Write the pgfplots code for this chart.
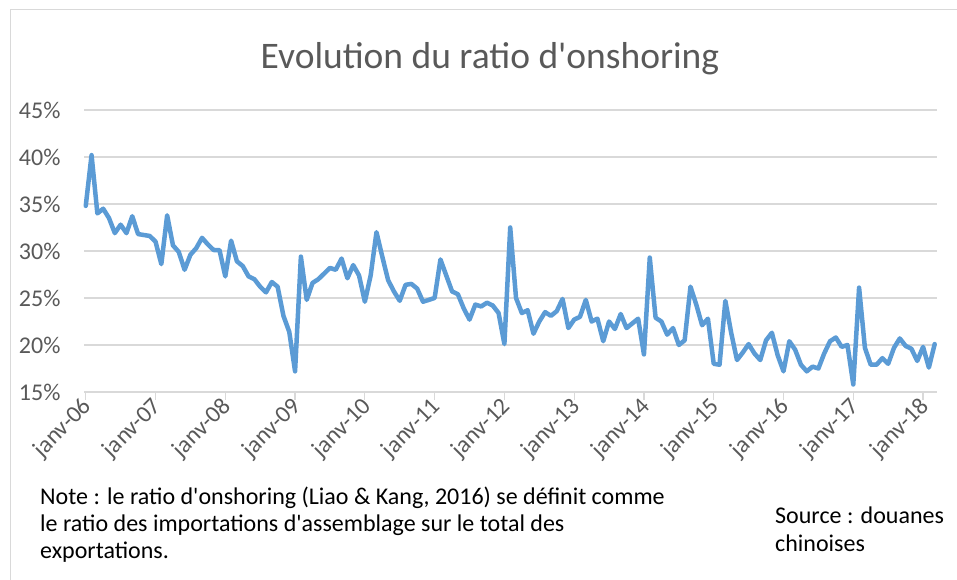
\documentclass[border=0pt]{standalone}
\usepackage{pgfplots}
\pgfplotsset{compat=1.18}
\usepackage{fontspec}
\setmainfont{Carlito}[Ligatures=TeXOff]
\definecolor{lineblue}{RGB}{91,155,213}
\definecolor{gridgray}{RGB}{217,217,217}
\definecolor{txtgray}{RGB}{89,89,89}
\pgfplotstableread{
m v
0 34.8
1 40.2
2 34.0
3 34.5
4 33.5
5 31.9
6 32.8
7 31.9
8 33.7
9 31.8
10 31.7
11 31.6
12 31.0
13 28.6
14 33.8
15 30.6
16 29.9
17 28.0
18 29.6
19 30.3
20 31.4
21 30.7
22 30.1
23 30.1
24 27.3
25 31.1
26 28.9
27 28.4
28 27.3
29 27.0
30 26.2
31 25.6
32 26.7
33 26.2
34 23.1
35 21.4
36 17.2
37 29.4
38 24.8
39 26.6
40 27.0
41 27.6
42 28.2
43 28.0
44 29.2
45 27.1
46 28.5
47 27.4
48 24.6
49 27.4
50 32.0
51 29.4
52 26.9
53 25.7
54 24.7
55 26.4
56 26.5
57 26.0
58 24.6
59 24.8
60 25.0
61 29.1
62 27.4
63 25.7
64 25.4
65 23.9
66 22.7
67 24.3
68 24.1
69 24.5
70 24.2
71 23.4
72 20.1
73 32.5
74 25.0
75 23.4
76 23.7
77 21.2
78 22.5
79 23.5
80 23.1
81 23.6
82 24.9
83 21.8
84 22.7
85 23.0
86 24.8
87 22.5
88 22.8
89 20.4
90 22.5
91 21.7
92 23.3
93 21.8
94 22.3
95 22.8
96 19.0
97 29.3
98 22.9
99 22.5
100 21.1
101 21.8
102 20.0
103 20.5
104 26.2
105 24.3
106 22.1
107 22.8
108 18.0
109 17.9
110 24.7
111 21.3
112 18.4
113 19.2
114 20.1
115 19.1
116 18.4
117 20.5
118 21.3
119 18.9
120 17.2
121 20.4
122 19.5
123 17.9
124 17.2
125 17.7
126 17.5
127 19.1
128 20.4
129 20.8
130 19.8
131 20.0
132 15.8
133 26.1
134 19.7
135 17.9
136 17.9
137 18.6
138 18.0
139 19.7
140 20.7
141 19.9
142 19.6
143 18.3
144 19.8
145 17.6
146 20.1
}\ratio
\begin{document}
\begin{tikzpicture}
\path[use as bounding box] (0pt,0pt) rectangle (957pt,580pt);
\draw[gridgray, line width=1pt] (10pt,0pt) -- (10pt,570pt) -- (957pt,570pt);
\begin{axis}[
  at={(84pt,188pt)}, anchor=south west,
  scale only axis, width=853pt, height=282pt,
  xmin=-0.3, xmax=146.4, ymin=15, ymax=45,
  ytick={15,20,25,30,35,40,45},
  yticklabels={15\%,20\%,25\%,30\%,35\%,40\%,45\%},
  xtick={0,12,...,144},
  xticklabels={janv-06,janv-07,janv-08,janv-09,janv-10,janv-11,janv-12,janv-13,janv-14,janv-15,janv-16,janv-17,janv-18},
  axis line style={draw=none},
  ymajorgrids, grid style={gridgray, line width=1.3pt},
  xtick pos=bottom, ytick pos=left,
  tick align=outside, major tick length=8pt,
  xtick style={gridgray, line width=1.3pt},
  ytick style={draw=none},
  yticklabel style={font=\fontsize{24}{28}\selectfont, text=txtgray, xshift=-12pt},
  xticklabel style={font=\fontsize{24}{28}\selectfont, text=txtgray, rotate=45, anchor=east, xshift=3pt, yshift=-4pt},
  clip=false,
]
\addplot[lineblue, line width=4.5pt, line join=round, line cap=round] table[x=m, y=v] {\ratio};
\end{axis}
\node[text=txtgray, font=\fontsize{37.5}{44}\selectfont] at (490pt,521pt) {Evolution du ratio d'onshoring};
\node[anchor=north west, align=left, inner sep=0pt, font=\fontsize{24}{27}\selectfont] at (40pt,93pt) {Note : le ratio d'onshoring (Liao \& Kang, 2016) se définit comme\\le ratio des importations d'assemblage sur le total des\\exportations.};
\node[anchor=north west, align=left, inner sep=0pt, font=\fontsize{24}{28}\selectfont] at (775pt,73pt) {Source : douanes\\chinoises};
\end{tikzpicture}
\end{document}
